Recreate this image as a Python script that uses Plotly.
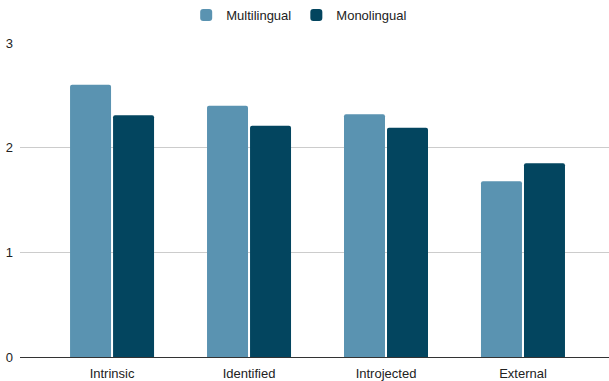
import plotly.graph_objects as go

categories = ["Intrinsic", "Identified", "Introjected", "External"]
multilingual = [2.60, 2.40, 2.32, 1.68]
monolingual = [2.31, 2.21, 2.19, 1.85]
y_ticks = [0, 1, 2, 3]

MULTI_COLOR = "#5a93b1"
MONO_COLOR = "#03455f"
FONT = "Arial, 'Liberation Sans', sans-serif"

fig = go.Figure()
fig.add_trace(go.Bar(x=categories, y=multilingual, name="Multilingual",
                     marker=dict(color=MULTI_COLOR, line=dict(width=0))))
fig.add_trace(go.Bar(x=categories, y=monolingual, name="Monolingual",
                     marker=dict(color=MONO_COLOR, line=dict(width=0))))

fig.update_layout(
    width=609, height=381,
    margin=dict(l=20, r=0, t=43, b=24),
    paper_bgcolor="white", plot_bgcolor="white",
    font=dict(family=FONT, size=13, color="#222222"),
    barmode="group", bargap=0.372, bargroupgap=0.047,
    barcornerradius=2,
    legend=dict(orientation="h", x=0.474, xanchor="center", y=1.0, yanchor="top",
                yref="container", font=dict(size=13, color="#222222"),
                itemwidth=30, traceorder="normal"),
    xaxis=dict(range=[-0.672, 3.628], showgrid=False, ticks="",
               showline=True, linecolor="#333333", linewidth=1,
               ticklabelstandoff=4,
               tickfont=dict(size=13, color="#222222")),
    yaxis=dict(range=[0, 3], tickvals=y_ticks, showgrid=True, gridcolor="#cccccc",
               gridwidth=1, zeroline=False, ticks="", ticklabelstandoff=6,
               tickfont=dict(size=13, color="#222222")),
)

fig.write_html("out.html")
